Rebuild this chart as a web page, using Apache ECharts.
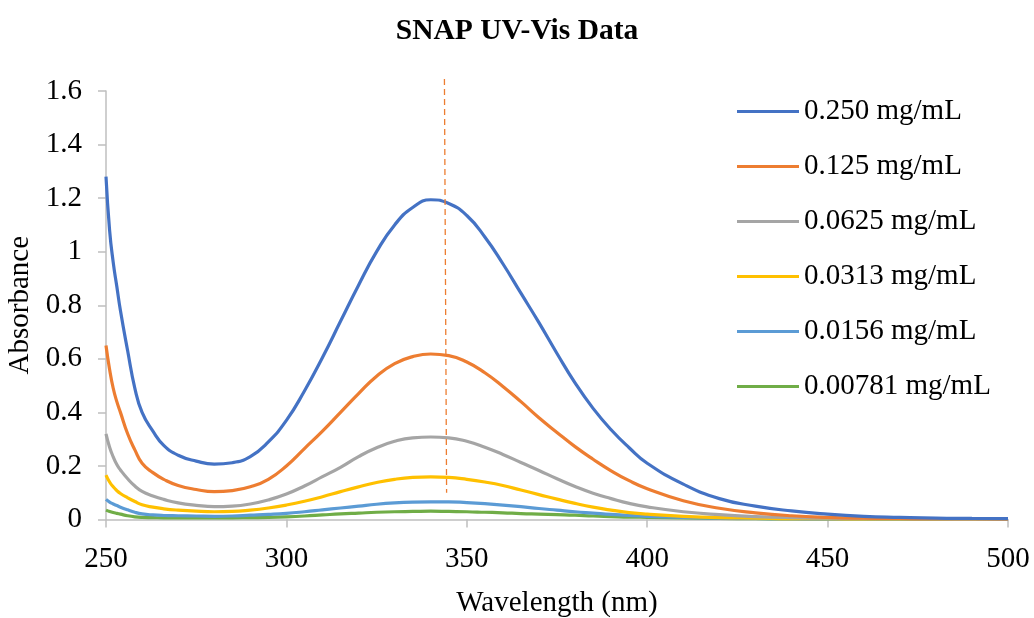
<!DOCTYPE html>
<html>
<head>
<meta charset="utf-8">
<script src="https://cdn.jsdelivr.net/npm/echarts@6/dist/echarts.min.js"></script>
<style>
html,body{margin:0;padding:0;background:#fff;}
#chart{width:1034px;height:618px;}
</style>
</head>
<body>
<div id="chart"></div>
<script>
const wavelengths = [250,251,252,253,254,256,258,260,263,266,270,275,280,285,290,295,300,305,310,315,320,325,330,335,340,345,350,355,360,365,370,375,380,385,390,395,400,410,420,430,440,450,460,470,480,490,500];

const seriesNames = ['0.250 mg/mL','0.125 mg/mL','0.0625 mg/mL','0.0313 mg/mL','0.0156 mg/mL','0.00781 mg/mL'];

const abs0250 = [1.28,1.08,0.96,0.87,0.78,0.63,0.49,0.40,0.33,0.277,0.24,0.218,0.207,0.212,0.235,0.29,0.37,0.48,0.605,0.74,0.875,1.0,1.1,1.165,1.194,1.18,1.135,1.055,0.955,0.845,0.735,0.62,0.51,0.415,0.335,0.268,0.21,0.132,0.078,0.05,0.032,0.02,0.012,0.008,0.005,0.004,0.003];
const abs0125 = [0.65,0.56,0.49,0.44,0.40,0.32,0.26,0.21,0.175,0.15,0.127,0.112,0.104,0.108,0.122,0.15,0.20,0.265,0.33,0.40,0.47,0.535,0.582,0.608,0.618,0.612,0.588,0.548,0.497,0.44,0.38,0.325,0.272,0.225,0.182,0.145,0.115,0.07,0.042,0.025,0.014,0.008,0.005,0.004,0.003,0.003,0.002];
const abs00625 = [0.32,0.27,0.234,0.205,0.185,0.152,0.125,0.105,0.088,0.075,0.062,0.053,0.048,0.05,0.058,0.073,0.095,0.125,0.16,0.195,0.235,0.268,0.292,0.305,0.308,0.305,0.292,0.27,0.243,0.213,0.183,0.152,0.123,0.098,0.078,0.06,0.047,0.029,0.018,0.011,0.007,0.005,0.004,0.003,0.003,0.002,0.002];
const abs00313 = [0.166,0.14,0.122,0.108,0.097,0.081,0.067,0.055,0.046,0.04,0.035,0.031,0.029,0.03,0.035,0.043,0.054,0.068,0.085,0.104,0.122,0.138,0.15,0.157,0.159,0.157,0.15,0.14,0.127,0.11,0.093,0.076,0.06,0.046,0.035,0.026,0.02,0.012,0.007,0.005,0.003,0.003,0.002,0.002,0.002,0.002,0.001];
const abs00156 = [0.075,0.065,0.058,0.052,0.046,0.036,0.027,0.021,0.017,0.015,0.014,0.013,0.012,0.013,0.016,0.019,0.023,0.029,0.036,0.043,0.05,0.057,0.062,0.065,0.066,0.066,0.063,0.059,0.054,0.048,0.041,0.035,0.029,0.024,0.019,0.015,0.012,0.008,0.005,0.004,0.003,0.002,0.002,0.002,0.001,0.001,0.001];
const abs00078 = [0.035,0.03,0.026,0.023,0.02,0.014,0.01,0.008,0.007,0.006,0.006,0.006,0.006,0.006,0.007,0.008,0.01,0.013,0.017,0.021,0.024,0.027,0.029,0.03,0.031,0.03,0.029,0.027,0.025,0.022,0.02,0.018,0.016,0.013,0.011,0.009,0.008,0.006,0.004,0.003,0.002,0.002,0.002,0.001,0.001,0.001,0.001];

const markerX = [343.8, 344.4];
const markerY = [1.645, 0.10];

const xTicks = [250,300,350,400,450,500];
const yTicks = [0,0.2,0.4,0.6,0.8,1,1.2,1.4,1.6];

const colors = ['#4472C4','#ED7D31','#A5A5A5','#FFC000','#5B9BD5','#70AD47'];
const allValues = [abs0250, abs0125, abs00625, abs00313, abs00156, abs00078];

const FONT = '"Liberation Serif", "Times New Roman", serif';

const series = allValues.map((vals, i) => ({
  name: seriesNames[i],
  type: 'line',
  data: wavelengths.map((w, j) => [w, vals[j]]),
  showSymbol: false,
  symbol: 'none',
  smooth: 0.5,
  lineStyle: { color: colors[i], width: 3.2 },
  itemStyle: { color: colors[i] },
  z: 10 - i
}));

series.push({
  name: 'marker',
  type: 'line',
  data: markerX.map((x, j) => [x, markerY[j]]),
  showSymbol: false,
  symbol: 'none',
  clip: false,
  lineStyle: { color: '#ED7D31', width: 1.3, type: [6, 4] },
  z: 20,
  silent: true
});

const chart = echarts.init(document.getElementById('chart'), null, { renderer: 'canvas' });
chart.setOption({
  animation: false,
  backgroundColor: '#ffffff',
  title: {
    text: 'SNAP UV-Vis Data',
    left: 'center',
    top: 11,
    textStyle: { fontFamily: FONT, fontSize: 29.5, fontWeight: 'bold', color: '#000' }
  },
  legend: {
    data: seriesNames,
    orient: 'vertical',
    left: 737,
    top: 97,
    padding: 0,
    itemWidth: 62,
    itemHeight: 14,
    itemGap: 26,
    icon: 'path://M0,5.5 L62,5.5 L62,8.5 L0,8.5 Z',
    textStyle: { fontFamily: FONT, fontSize: 29, color: '#000' }
  },
  grid: { left: 106, right: 26, top: 91, bottom: 98.5, containLabel: false, outerBoundsMode: 'none' },
  xAxis: {
    type: 'value',
    min: 250,
    max: 500,
    interval: 50,
    name: 'Wavelength (nm)',
    nameLocation: 'middle',
    nameGap: 69,
    nameTextStyle: { fontFamily: FONT, fontSize: 29, color: '#000' },
    axisLine: { show: true, lineStyle: { color: '#BFBFBF', width: 1.5 } },
    axisTick: { show: true, length: 8, lineStyle: { color: '#BFBFBF', width: 1.5 } },
    axisLabel: { fontFamily: FONT, fontSize: 29, color: '#000', margin: 25,
      formatter: v => xTicks.includes(v) ? String(v) : '' },
    splitLine: { show: false }
  },
  yAxis: {
    type: 'value',
    min: 0,
    max: 1.6,
    interval: 0.2,
    name: 'Absorbance',
    nameLocation: 'middle',
    nameGap: 68,
    nameTextStyle: { fontFamily: FONT, fontSize: 29, color: '#000' },
    axisLine: { show: true, lineStyle: { color: '#BFBFBF', width: 1.5 } },
    axisTick: { show: true, length: 8, lineStyle: { color: '#BFBFBF', width: 1.5 } },
    axisLabel: { fontFamily: FONT, fontSize: 29, color: '#000', margin: 24,
      formatter: v => { const t = yTicks.find(y => Math.abs(y - v) < 1e-6); return t === undefined ? '' : String(t); } },
    splitLine: { show: false }
  },
  series: series
});
</script>
</body>
</html>
